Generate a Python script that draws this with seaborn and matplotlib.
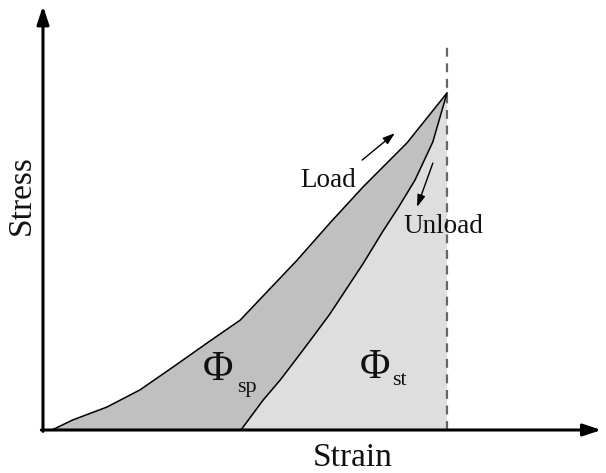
import matplotlib
matplotlib.use("Agg")
import matplotlib.pyplot as plt
import seaborn as sns
import pandas as pd

sns.set_theme(style="white")
plt.rcParams["font.family"] = ["Liberation Serif", "DejaVu Serif"]

# Loading branch (strain, stress), normalised to the peak point
load_strain = [0.022, 0.074, 0.158, 0.240, 0.322, 0.406, 0.488, 0.545, 0.629, 0.710, 0.792, 0.901, 1.0]
load_stress = [0.000, 0.030, 0.068, 0.119, 0.187, 0.258, 0.326, 0.398, 0.504, 0.614, 0.721, 0.852, 1.0]

# Unloading branch
unload_strain = [0.490, 0.545, 0.587, 0.629, 0.668, 0.710, 0.792, 0.842, 0.879, 0.921, 0.965, 1.0]
unload_stress = [0.000, 0.089, 0.148, 0.214, 0.276, 0.344, 0.493, 0.591, 0.659, 0.742, 0.855, 1.0]

peak_strain = 1.0

load_df = pd.DataFrame({"strain": load_strain, "stress": load_stress})
unload_df = pd.DataFrame({"strain": unload_strain, "stress": unload_stress})

fig = plt.figure(figsize=(6.06, 4.73), dpi=100)
ax = fig.add_axes([0, 0, 1, 1])
ax.set_xlim(-0.1064, 1.3936)
ax.set_ylim(-0.1276, 1.2760)
ax.axis("off")

# Dissipated energy: area between loading and unloading branches
ax.fill(load_strain + unload_strain[::-1], load_stress + unload_stress[::-1],
        color="#c0c0c0", lw=0, zorder=1)
# Stored energy: area under the unloading branch
ax.fill(unload_strain + [peak_strain], unload_stress + [0.0],
        color="#dedede", lw=0, zorder=1)

sns.lineplot(data=load_df, x="strain", y="stress", sort=False, ax=ax,
             color="black", lw=1.1, zorder=3)
sns.lineplot(data=unload_df, x="strain", y="stress", sort=False, ax=ax,
             color="black", lw=1.1, zorder=3)

# Peak strain marker
ax.plot([peak_strain, peak_strain], [0, 1.148], color="#666666", lw=1.6,
        linestyle=(0, (4, 3)), zorder=2)

# Axes with arrowheads
ax.annotate("", xy=(1.382, 0), xytext=(-0.004, 0),
            arrowprops=dict(arrowstyle="-|>,head_length=0.9,head_width=0.3",
                            color="black", lw=2.2, shrinkA=0, shrinkB=0), zorder=4)
ax.annotate("", xy=(0, 1.258), xytext=(0, -0.004),
            arrowprops=dict(arrowstyle="-|>,head_length=0.9,head_width=0.3",
                            color="black", lw=2.2, shrinkA=0, shrinkB=0), zorder=4)

# Direction arrows
ax.annotate("", xy=(0.871, 0.881), xytext=(0.790, 0.801),
            arrowprops=dict(arrowstyle="-|>,head_length=0.6,head_width=0.2",
                            color="black", lw=1.0, shrinkA=0, shrinkB=0))
ax.annotate("", xy=(0.926, 0.662), xytext=(0.965, 0.792),
            arrowprops=dict(arrowstyle="-|>,head_length=0.6,head_width=0.2",
                            color="black", lw=1.0, shrinkA=0, shrinkB=0))

ax.text(0.767, -0.108, "Strain", ha="center", va="baseline", fontsize=24, color="#111111")
ax.text(-0.054, 0.697, "Stress", ha="center", va="center", rotation=90,
        fontsize=24, color="#111111")
ax.text(0.636, 0.721, "Load", ha="left", va="baseline", fontsize=19.5, color="#111111")
ax.text(0.891, 0.585, "Unload", ha="left", va="baseline", fontsize=19.5, color="#111111")

ax.text(0.396, 0.148, "Φ", ha="left", va="baseline", fontsize=30, color="#111111")
ax.text(0.480, 0.113, "sp", ha="left", va="baseline", fontsize=16, color="#111111")
ax.text(0.785, 0.154, "Φ", ha="left", va="baseline", fontsize=30, color="#111111")
ax.text(0.864, 0.134, "st", ha="left", va="baseline", fontsize=16, color="#111111")

fig.savefig("out.png", dpi=100)
